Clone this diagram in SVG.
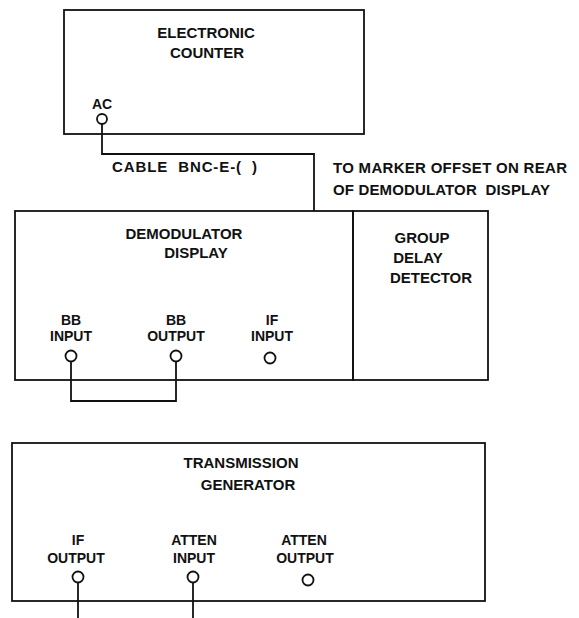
<svg xmlns="http://www.w3.org/2000/svg" width="579" height="618" viewBox="0 0 579 618">
<style>
.box{fill:none;stroke:#111;stroke-width:1.8}
.jack{fill:#fff;stroke:#111;stroke-width:1.8}
.wire{fill:none;stroke:#111;stroke-width:1.8}
text{font-family:"Liberation Sans",Arial,sans-serif;font-size:15px;font-weight:bold;fill:#111;text-anchor:middle}
.p{font-size:14px}
.l{text-anchor:start}
</style>
<rect width="579" height="618" fill="#fff"/>
<g id="connectors">
<polyline class="wire" points="102,124 102,154 314,154 314,211"/>
<polyline class="wire" points="71,361 71,401 176,401 176,361"/>
<line class="wire" x1="78" y1="582" x2="78" y2="618"/>
<line class="wire" x1="193" y1="582" x2="193" y2="618"/>
</g>
<g id="electronic-counter">
<rect class="box" x="64" y="10" width="300" height="124"/>
<text x="206" y="38">ELECTRONIC</text>
<text x="207" y="58">COUNTER</text>
<text class="p" x="102" y="109">AC</text>
<circle class="jack" cx="102" cy="119" r="5"/>
</g>
<g id="cable-label">
<text class="l" x="112" y="172" xml:space="preserve" textLength="145">CABLE  BNC-E-(  )</text>
</g>
<g id="marker-note">
<text class="l" x="333" y="173" textLength="234">TO MARKER OFFSET ON REAR</text>
<text class="l" x="333" y="195" xml:space="preserve" textLength="217">OF DEMODULATOR  DISPLAY</text>
</g>
<g id="demodulator-display">
<rect class="box" x="15" y="211" width="338" height="169"/>
<text x="184" y="239">DEMODULATOR</text>
<text x="196" y="258">DISPLAY</text>
<text class="p" x="71" y="325">BB</text>
<text class="p" x="71" y="341">INPUT</text>
<circle class="jack" cx="71" cy="356" r="5.5"/>
<text class="p" x="176" y="325">BB</text>
<text class="p" x="176" y="341">OUTPUT</text>
<circle class="jack" cx="176" cy="356" r="5.5"/>
<text class="p" x="272" y="325">IF</text>
<text class="p" x="272" y="341">INPUT</text>
<circle class="jack" cx="270" cy="358" r="5.5"/>
</g>
<g id="group-delay-detector">
<rect class="box" x="353" y="211" width="135" height="169"/>
<text x="422" y="243">GROUP</text>
<text x="418" y="263">DELAY</text>
<text x="431" y="283">DETECTOR</text>
</g>
<g id="transmission-generator">
<rect class="box" x="12" y="443" width="473" height="158"/>
<text x="241" y="468">TRANSMISSION</text>
<text x="248" y="490">GENERATOR</text>
<text class="p" x="78" y="545">IF</text>
<text class="p" x="76" y="563">OUTPUT</text>
<circle class="jack" cx="78" cy="577" r="5.5"/>
<text class="p" x="194" y="545">ATTEN</text>
<text class="p" x="194" y="563">INPUT</text>
<circle class="jack" cx="193" cy="577" r="5.5"/>
<text class="p" x="304" y="545">ATTEN</text>
<text class="p" x="305" y="563">OUTPUT</text>
<circle class="jack" cx="308" cy="580" r="5.5"/>
</g>
</svg>
